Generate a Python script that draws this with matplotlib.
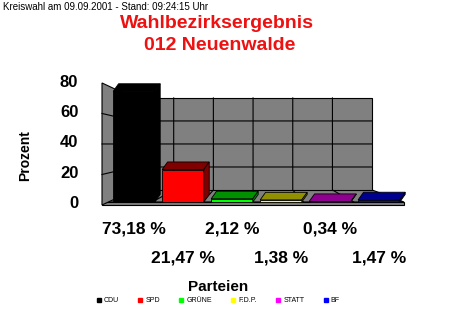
import matplotlib
matplotlib.use("Agg")
import matplotlib.pyplot as plt
from matplotlib.patches import Polygon, Rectangle
from matplotlib.lines import Line2D
from matplotlib.transforms import blended_transform_factory

plt.rcParams["font.family"] = ["Liberation Sans", "DejaVu Sans"]

# Daten
parteien = ["CDU", "SPD", "GRÜNE", "F.D.P.", "STATT", "BF"]
prozent = [73.18, 21.47, 2.12, 1.38, 0.34, 1.47]
farben = ["#000000", "#ff0000", "#00ff00", "#ffff00", "#ff00ff", "#0000ff"]
dunkel = ["#000000", "#800000", "#009000", "#909000", "#900090", "#000090"]
yticks = [0, 20, 40, 60, 80]

fig = plt.figure(figsize=(4.6, 3.13), dpi=100)
fig.text(3/460, 1-7/313, "Kreiswahl am 09.09.2001 - Stand: 09:24:15 Uhr", fontsize=7, va="center")
fig.text(217/460, 1-24/313, "Wahlbezirksergebnis", color="#ee1111", fontsize=14,
         fontweight="bold", ha="center", va="center")
fig.text(220/460, 1-46/313, "012 Neuenwalde", color="#ee1111", fontsize=14,
         fontweight="bold", ha="center", va="center")
fig.text(25/460, 1-156/313, "Prozent", rotation=90, fontsize=10, fontweight="bold",
         ha="center", va="center")

ax = fig.add_axes([95/460, 1-210/313, 320/460, 140/313])
ax.set_xlim(-0.796, 5.735)
ax.set_ylim(-5.29, 87.27)
for s in ax.spines.values():
    s.set_visible(False)
ax.set_xticks([])
ax.set_yticks(yticks)
ax.set_yticklabels([str(t) for t in yticks], fontsize=12, fontweight="bold")
ax.tick_params(axis="y", length=0, pad=12)

# 3D-Rahmen (Wand + Boden)
grau = "#808080"
wx0, wx1 = 0.0, 4.86
wy0, wy1 = 7.93, 68.8
fx, fr = -0.653, 5.51
fy0, fy1 = -1.98, 78.7
ax.add_patch(Polygon([(fx, 0), (fr, 0), (wx1, wy0), (wx0, wy0)], fc=grau, ec="k", lw=0.8))
ax.add_patch(Rectangle((fx, fy0), fr - fx, -fy0, fc=grau, ec="k", lw=0.8))
ax.add_patch(Polygon([(fx, fy0), (fx, fy1), (wx0, wy1), (wx0, wy0)], fc=grau, ec="k", lw=0.8))
ax.add_patch(Rectangle((wx0, wy0), wx1 - wx0, wy1 - wy0, fc=grau, ec="k", lw=0.8))
for t in yticks[1:-1]:
    yb = wy0 + (wy1 - wy0) * t / 80
    yf = fy0 + (fy1 - fy0) * t / 80
    ax.plot([fx, wx0, wx1], [yf, yb, yb], color="k", lw=0.8)
for k in range(1, 6):
    xb = wx0 + (wx1 - wx0) * k / 6
    xf = fx + (fr - fx) * k / 6
    ax.plot([xb, xb, xf], [wy1, wy0, 0], color="k", lw=0.8)

# Balken
xs = list(range(len(prozent)))
w = 0.85
ddx, ddy = 0.11, 5.0
ax.bar(xs, prozent, width=w, color=farben, edgecolor="k", lw=0.6, zorder=3)
for x, v, d in zip(xs, prozent, dunkel):
    l, r = x - w/2, x + w/2
    ax.add_patch(Polygon([(l, v), (r, v), (r + ddx, v + ddy), (l + ddx, v + ddy)],
                         fc=d, ec="k", lw=0.6, zorder=3))
    ax.add_patch(Polygon([(r, 0), (r, v), (r + ddx, v + ddy), (r + ddx, ddy)],
                         fc=d, ec="k", lw=0.6, zorder=3))

# Prozentwerte
trans = blended_transform_factory(ax.transData, fig.transFigure)
for i, (x, v) in enumerate(zip(xs, prozent)):
    yy = 1 - 229/313 if i % 2 == 0 else 1 - 258/313
    ax.text(x, yy, f"{v:.2f}".replace(".", ",") + " %", transform=trans,
            ha="center", va="center", fontsize=12.5, fontweight="bold", clip_on=False)

handles = [Line2D([], [], marker="s", ls="", color=c, markersize=3.5) for c in farben]
fig.legend(handles, parteien, loc="center", bbox_to_anchor=(218/460, 1-292/313),
           ncol=6, title="Parteien", fontsize=5, frameon=False,
           title_fontproperties={"weight": "bold", "size": 11},
           handlelength=0.7, handletextpad=0.4, columnspacing=2.7)

fig.savefig("out.png", dpi=100)
